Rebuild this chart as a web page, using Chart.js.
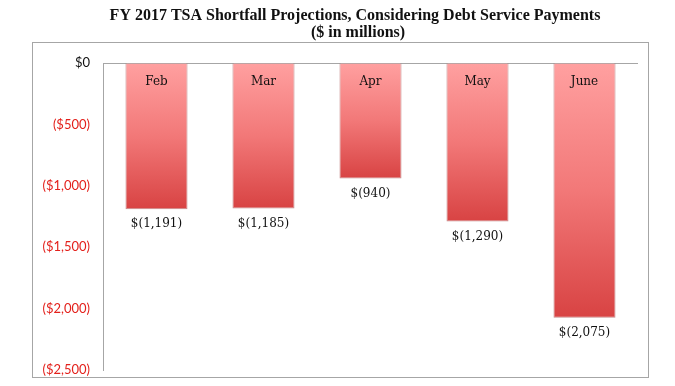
<!DOCTYPE html>
<html>
<head>
<meta charset="utf-8">
<script src="https://cdn.jsdelivr.net/npm/chart.js@4.4.1/dist/chart.umd.min.js"></script>
<style>
  html, body { margin: 0; padding: 0; background: #fff; }
  #wrap { width: 675px; height: 386px; position: relative; }
</style>
</head>
<body>
<div id="wrap"><canvas id="chart-shortfall" width="675" height="386"></canvas></div>
<script>
/* ── data ── */
const months = ['Feb', 'Mar', 'Apr', 'May', 'June'];
const shortfall = [-1191, -1185, -940, -1290, -2075];
const yTicks = [0, -500, -1000, -1500, -2000, -2500];
const titleLines = ['FY 2017 TSA Shortfall Projections, Considering Debt Service Payments', '($ in millions)'];

/* ── colours ── */
const C = {
  barTop   : '#ffa0a0',
  barMid   : '#f27878',
  barBottom: '#d84343',
  barEdge  : 'rgba(150,40,40,.55)',
  axis     : '#a6a6a6',
  frame    : '#a6a6a6',
  red      : '#e3211c',
  text     : '#111',
};

const fmtAxis = v => v === 0 ? '$0' : '($' + Math.abs(v).toLocaleString('en-US') + ')';
const fmtVal  = v => v < 0 ? '$(' + Math.abs(v).toLocaleString('en-US') + ')' : '$' + v.toLocaleString('en-US');

/* 막대별 그라데이션 (위: 연분홍 → 아래: 빨강) */
function barGradient(ctx) {
  const chart = ctx.chart;
  const y = chart.scales.y;
  if (!y || ctx.dataIndex === undefined) return C.barMid;
  const v = ctx.dataset.data[ctx.dataIndex];
  const top = y.getPixelForValue(0);
  const bot = y.getPixelForValue(v);
  if (!isFinite(top) || !isFinite(bot) || top === bot) return C.barMid;
  const g = chart.ctx.createLinearGradient(0, top, 0, bot);
  g.addColorStop(0, C.barTop);
  g.addColorStop(0.5, C.barMid);
  g.addColorStop(1, C.barBottom);
  return g;
}

/* 바깥 테두리 + 제목 */
const framePlugin = {
  id: 'frame',
  beforeDraw(chart) {
    const ctx = chart.ctx;
    ctx.save();
    ctx.strokeStyle = C.frame;
    ctx.lineWidth = 1;
    ctx.strokeRect(32.5, 42.5, 616, 335);
    ctx.fillStyle = C.text;
    ctx.font = 'bold 16px "Liberation Serif", "Times New Roman", serif';
    ctx.textAlign = 'center';
    ctx.textBaseline = 'alphabetic';
    ctx.fillText(titleLines[0], 355, 20);
    ctx.fillText(titleLines[1], 358, 37);
    ctx.restore();
  },
};

/* 막대 안쪽 월 이름, 막대 아래 값 */
const labelPlugin = {
  id: 'barLabels',
  afterDatasetsDraw(chart) {
    const ctx = chart.ctx;
    const meta = chart.getDatasetMeta(0);
    ctx.save();
    ctx.fillStyle = C.text;
    ctx.textAlign = 'center';
    ctx.textBaseline = 'middle';
    meta.data.forEach((bar, i) => {
      ctx.font = '12px "DejaVu Serif", serif';
      ctx.fillText(months[i], bar.x, bar.base + 18);
      ctx.fillText(fmtVal(shortfall[i]), bar.x, bar.y + 15);
    });
    ctx.restore();
  },
};

new Chart(document.getElementById('chart-shortfall'), {
  type: 'bar',
  data: {
    labels: months,
    datasets: [{
      data           : shortfall,
      backgroundColor: barGradient,
      borderColor    : C.barEdge,
      borderWidth    : 1,
      barPercentage  : 0.58,
      categoryPercentage: 1,
    }],
  },
  options: {
    responsive: false,
    animation: false,
    layout: { padding: { left: 32, right: 37, top: 63, bottom: 16 } },
    plugins: {
      legend : { display: false },
      tooltip: { enabled: false },
      title  : { display: false },
    },
    scales: {
      x: { display: false },
      y: {
        min: -2500,
        max: 0,
        afterFit(scale) {
          scale.width = 71;
          scale.paddingTop = 0;
          scale.paddingBottom = 0;
        },
        afterBuildTicks(scale) { scale.ticks = yTicks.map(v => ({ value: v })); },
        border: { display: true, color: C.axis, width: 1 },
        grid: {
          drawTicks: false,
          color: ctx => (ctx.tick && ctx.tick.value === 0) ? C.axis : 'transparent',
        },
        ticks: {
          padding: 13,
          font: { family: 'Lato, "Liberation Sans", sans-serif', size: 13 },
          color: ctx => ctx.tick.value === 0 ? C.text : C.red,
          callback: v => fmtAxis(v),
        },
      },
    },
  },
  plugins: [framePlugin, labelPlugin],
});
</script>
</body>
</html>
